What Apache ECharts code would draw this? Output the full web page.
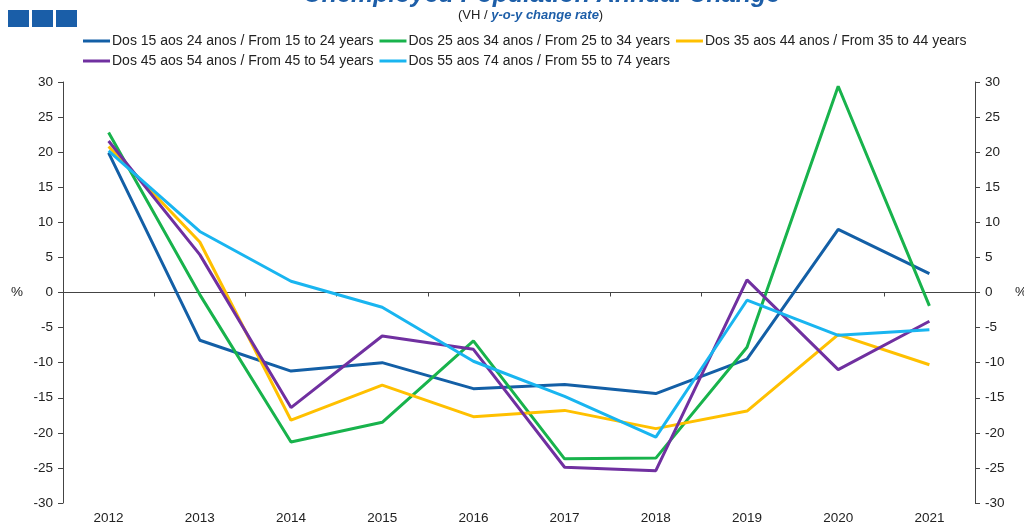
<!DOCTYPE html>
<html><head><meta charset="utf-8">
<script src="https://cdn.jsdelivr.net/npm/echarts@6/dist/echarts.min.js"></script>
<style>html,body{margin:0;padding:0;background:#fff}#c{width:1024px;height:524px}</style>
</head><body><div id="c"></div>
<script>
const years = ['2012','2013','2014','2015','2016','2017','2018','2019','2020','2021'];
const names = [
  'Dos 15 aos 24 anos / From 15 to 24 years',
  'Dos 25 aos 34 anos / From 25 to 34 years',
  'Dos 35 aos 44 anos / From 35 to 44 years',
  'Dos 45 aos 54 anos / From 45 to 54 years',
  'Dos 55 aos 74 anos / From 55 to 74 years'
];
const age15to24 = [19.9, -6.8, -11.2, -10.0, -13.7, -13.1, -14.4, -9.5, 9.0, 2.7];
const age25to34 = [22.8, -0.3, -21.3, -18.5, -6.9, -23.7, -23.6, -7.8, 29.4, -1.9];
const age35to44 = [20.8, 7.2, -18.2, -13.2, -17.7, -16.8, -19.4, -16.9, -6.0, -10.3];
const age45to54 = [21.6, 5.4, -16.4, -6.2, -8.1, -24.9, -25.4, 1.8, -11.0, -4.1];
const age55to74 = [20.2, 8.7, 1.6, -2.1, -9.8, -14.8, -20.6, -1.1, -6.1, -5.3];
const seriesData = [age15to24, age25to34, age35to44, age45to54, age55to74];
const colors = ['#135fa6', '#18b34c', '#ffc000', '#7030a0', '#19b5f0'];

const chart = echarts.init(document.getElementById('c'), null, {renderer: 'canvas'});
const font = 'Liberation Sans, Arial, sans-serif';
const yAxisBase = {
  type: 'value', min: -30, max: 30, interval: 5,
  splitLine: {show: false},
  axisLine: {show: true, lineStyle: {color: '#444', width: 1}},
  axisTick: {show: true, length: 5, lineStyle: {color: '#444'}},
  axisLabel: {fontFamily: font, fontSize: 13.5, color: '#222', margin: 10},
  name: '%', nameLocation: 'middle', nameRotate: 0, nameGap: 40,
  nameTextStyle: {fontFamily: font, fontSize: 13.5, color: '#222'}
};
chart.setOption({
  backgroundColor: '#fff',
  animation: false,
  color: colors,
  title: {
    text: 'Unemployed Population Annual Change',
    left: 537, textAlign: 'center', top: -22,
    textStyle: {fontFamily: font, fontSize: 25, fontWeight: 'bold', fontStyle: 'italic', color: '#1d5ea8'}
  },
  graphic: [
    {type: 'rect', left: 8, top: 10, shape: {width: 21, height: 17}, style: {fill: '#1a5ea8'}},
    {type: 'rect', left: 32, top: 10, shape: {width: 21, height: 17}, style: {fill: '#1a5ea8'}},
    {type: 'rect', left: 56, top: 10, shape: {width: 21, height: 17}, style: {fill: '#1a5ea8'}},
    {type: 'text', left: 458, top: 9,
     style: {
       text: '{a|(VH / }{b|y-o-y change rate}{a|)}',
       rich: {
         a: {fontFamily: font, fontSize: 13, fill: '#222'},
         b: {fontFamily: font, fontSize: 13, fontStyle: 'italic', fontWeight: 'bold', fill: '#1d5ea8'}
       }
     }}
  ],
  legend: {
    left: 83, top: 34, width: 900, padding: 0,
    itemWidth: 27, itemHeight: 3, itemGap: 6, icon: 'rect',
    textStyle: {fontFamily: font, fontSize: 14, color: '#222', padding: [0,0,0,-3]},
    data: names
  },
  grid: {left: 63, right: 49, top: 82, bottom: 21, containLabel: false, outerBoundsMode: 'none'},
  xAxis: [
    {type: 'category', data: years, position: 'bottom', boundaryGap: true,
     axisLine: {show: false}, axisTick: {show: false},
     axisLabel: {fontFamily: font, fontSize: 13.5, color: '#222', margin: 8}},
    {type: 'category', data: years, position: 'bottom', boundaryGap: true,
     axisLine: {show: true, onZero: true, lineStyle: {color: '#444', width: 1}},
     axisTick: {show: true, length: 4, lineStyle: {color: '#444'}},
     axisLabel: {show: false}}
  ],
  yAxis: [
    Object.assign({}, yAxisBase, {position: 'left'}),
    Object.assign({}, yAxisBase, {position: 'right'})
  ],
  series: seriesData.map((d, i) => ({
    name: names[i], type: 'line', data: d, xAxisIndex: 0, yAxisIndex: 0,
    symbol: 'none', lineStyle: {width: 3, color: colors[i]}, itemStyle: {color: colors[i]}
  }))
});
</script></body></html>
